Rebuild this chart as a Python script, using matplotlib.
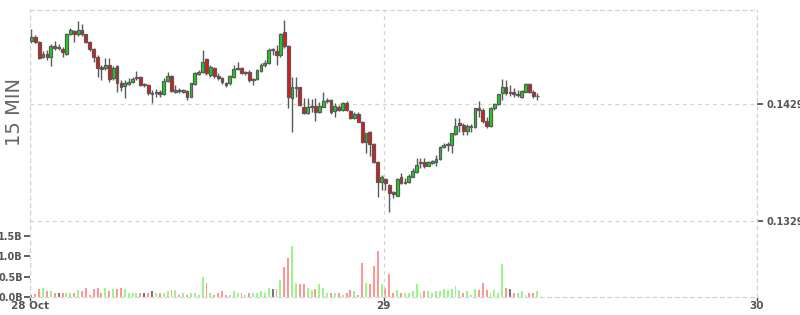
import matplotlib
matplotlib.use('Agg')
import matplotlib.pyplot as plt
import matplotlib.dates as mdates
import numpy as np
import pandas as pd


# 15 minute candles, 28 Oct 01:15 onwards
start = '2019-10-28 01:15'
opens = [0.14828, 0.14860, 0.14822, 0.14689, 0.14715, 0.14689, 0.14786, 0.14780, 0.14757, 0.14715,
         0.14888, 0.14914, 0.14886, 0.14923, 0.14886, 0.14822, 0.14757, 0.14694, 0.14609, 0.14595,
         0.14623, 0.14510, 0.14615, 0.14467, 0.14444, 0.14461, 0.14475, 0.14515, 0.14523, 0.14458,
         0.14452, 0.14375, 0.14381, 0.14390, 0.14375, 0.14489, 0.14532, 0.14395, 0.14409, 0.14395,
         0.14401, 0.14352, 0.14458, 0.14549, 0.14561, 0.14672, 0.14538, 0.14595, 0.14532, 0.14510,
         0.14467, 0.14467, 0.14523, 0.14586, 0.14595, 0.14552, 0.14561, 0.14492, 0.14504, 0.14575,
         0.14623, 0.14638, 0.14759, 0.14743, 0.14709, 0.14903, 0.14788, 0.14344, 0.14426, 0.14433,
         0.14267, 0.14210, 0.14264, 0.14273, 0.14219, 0.14267, 0.14315, 0.14324, 0.14230, 0.14267,
         0.14239, 0.14296, 0.14233, 0.14168, 0.14202, 0.14138, 0.13962, 0.14048, 0.13948, 0.13791,
         0.13625, 0.13649, 0.13597, 0.13535, 0.13506, 0.13663, 0.13612, 0.13620, 0.13668, 0.13706,
         0.13796, 0.13791, 0.13762, 0.13788, 0.13796, 0.13820, 0.13920, 0.13937, 0.13939, 0.14033,
         0.14125, 0.14110, 0.14062, 0.14096, 0.14091, 0.14253, 0.14239, 0.14147, 0.14104, 0.14253,
         0.14287, 0.14381, 0.14438, 0.14389, 0.14390, 0.14367, 0.14352, 0.14395, 0.14458, 0.14390,
         0.14354]
highs = [0.14931, 0.14880, 0.14828, 0.14743, 0.14752, 0.14803, 0.14828, 0.14800, 0.14780, 0.14897,
         0.14937, 0.14923, 0.14999, 0.14971, 0.14888, 0.14828, 0.14766, 0.14709, 0.14623, 0.14683,
         0.14686, 0.14615, 0.14623, 0.14495, 0.14495, 0.14510, 0.14523, 0.14572, 0.14529, 0.14469,
         0.14458, 0.14409, 0.14418, 0.14409, 0.14510, 0.14561, 0.14538, 0.14452, 0.14429, 0.14418,
         0.14409, 0.14469, 0.14561, 0.14580, 0.14752, 0.14686, 0.14623, 0.14609, 0.14552, 0.14523,
         0.14480, 0.14538, 0.14623, 0.14651, 0.14609, 0.14572, 0.14580, 0.14515, 0.14586, 0.14638,
         0.14666, 0.14766, 0.14766, 0.14794, 0.14894, 0.15008, 0.14794, 0.14521, 0.14521, 0.14435,
         0.14341, 0.14339, 0.14333, 0.14339, 0.14307, 0.14392, 0.14341, 0.14333, 0.14298, 0.14281,
         0.14307, 0.14315, 0.14239, 0.14221, 0.14221, 0.14144, 0.14042, 0.14059, 0.13956, 0.13802,
         0.13683, 0.13657, 0.13606, 0.13546, 0.13657, 0.13700, 0.13657, 0.13691, 0.13743, 0.13828,
         0.13826, 0.13828, 0.13802, 0.13811, 0.13854, 0.13931, 0.13956, 0.13965, 0.14042, 0.14168,
         0.14173, 0.14127, 0.14116, 0.14116, 0.14258, 0.14315, 0.14253, 0.14181, 0.14264, 0.14296,
         0.14375, 0.14504, 0.14495, 0.14452, 0.14424, 0.14409, 0.14409, 0.14467, 0.14467, 0.14409,
         0.14381]
lows = [0.14809, 0.14811, 0.14670, 0.14683, 0.14666, 0.14617, 0.14752, 0.14752, 0.14694, 0.14709,
        0.14880, 0.14822, 0.14874, 0.14874, 0.14811, 0.14743, 0.14651, 0.14523, 0.14495, 0.14580,
        0.14480, 0.14495, 0.14395, 0.14401, 0.14344, 0.14452, 0.14467, 0.14495, 0.14446, 0.14435,
        0.14367, 0.14296, 0.14352, 0.14352, 0.14367, 0.14480, 0.14395, 0.14381, 0.14381, 0.14384,
        0.14324, 0.14350, 0.14452, 0.14538, 0.14552, 0.14538, 0.14523, 0.14510, 0.14495, 0.14458,
        0.14438, 0.14452, 0.14510, 0.14580, 0.14544, 0.14538, 0.14480, 0.14452, 0.14495, 0.14566,
        0.14609, 0.14629, 0.14709, 0.14623, 0.14694, 0.14766, 0.14256, 0.14053, 0.14350, 0.14273,
        0.14204, 0.14204, 0.14221, 0.14144, 0.14213, 0.14264, 0.14298, 0.14204, 0.14179, 0.14230,
        0.14230, 0.14230, 0.14162, 0.14162, 0.14133, 0.13956, 0.13871, 0.13845, 0.13785, 0.13497,
        0.13554, 0.13554, 0.13369, 0.13486, 0.13503, 0.13606, 0.13606, 0.13614, 0.13666, 0.13700,
        0.13745, 0.13743, 0.13760, 0.13777, 0.13762, 0.13811, 0.13914, 0.13888, 0.13873, 0.14025,
        0.14048, 0.14025, 0.14025, 0.14053, 0.14082, 0.14181, 0.14125, 0.14087, 0.14096, 0.14239,
        0.14281, 0.14324, 0.14367, 0.14361, 0.14352, 0.14352, 0.14344, 0.14390, 0.14381, 0.14339,
        0.14324]
closes = [0.14865, 0.14822, 0.14681, 0.14715, 0.14689, 0.14788, 0.14766, 0.14766, 0.14732, 0.14886,
          0.14923, 0.14886, 0.14923, 0.14888, 0.14817, 0.14757, 0.14694, 0.14595, 0.14589, 0.14623,
          0.14504, 0.14595, 0.14467, 0.14433, 0.14467, 0.14480, 0.14501, 0.14523, 0.14452, 0.14452,
          0.14381, 0.14381, 0.14395, 0.14375, 0.14489, 0.14529, 0.14401, 0.14409, 0.14401, 0.14409,
          0.14352, 0.14467, 0.14552, 0.14561, 0.14651, 0.14557, 0.14609, 0.14532, 0.14510, 0.14475,
          0.14452, 0.14532, 0.14589, 0.14595, 0.14557, 0.14561, 0.14495, 0.14504, 0.14580, 0.14623,
          0.14638, 0.14752, 0.14752, 0.14709, 0.14886, 0.14788, 0.14347, 0.14433, 0.14435, 0.14281,
          0.14210, 0.14267, 0.14273, 0.14219, 0.14273, 0.14318, 0.14324, 0.14219, 0.14275, 0.14239,
          0.14296, 0.14239, 0.14168, 0.14202, 0.14138, 0.13962, 0.14039, 0.13948, 0.13791, 0.13625,
          0.13663, 0.13612, 0.13526, 0.13518, 0.13649, 0.13612, 0.13625, 0.13677, 0.13720, 0.13768,
          0.13783, 0.13762, 0.13791, 0.13802, 0.13817, 0.13925, 0.13939, 0.13945, 0.14039, 0.14104,
          0.14108, 0.14062, 0.14102, 0.14104, 0.14253, 0.14239, 0.14147, 0.14104, 0.14253, 0.14287,
          0.14373, 0.14438, 0.14381, 0.14381, 0.14373, 0.14375, 0.14401, 0.14458, 0.14390, 0.14358,
          0.14361]
# volume in billions
volumes = [0.06, 0.07, 0.19, 0.21, 0.14, 0.14, 0.09, 0.09, 0.11, 0.11,
           0.09, 0.09, 0.16, 0.15, 0.21, 0.06, 0.19, 0.23, 0.11, 0.23,
           0.14, 0.19, 0.19, 0.21, 0.19, 0.11, 0.09, 0.09, 0.11, 0.09,
           0.11, 0.14, 0.09, 0.09, 0.11, 0.14, 0.16, 0.16, 0.06, 0.09,
           0.06, 0.09, 0.11, 0.06, 0.50, 0.35, 0.11, 0.06, 0.09, 0.14,
           0.06, 0.04, 0.14, 0.11, 0.09, 0.06, 0.09, 0.09, 0.09, 0.14,
           0.09, 0.23, 0.19, 0.19, 0.43, 0.75, 0.97, 1.26, 0.35, 0.31,
           0.31, 0.23, 0.16, 0.19, 0.33, 0.23, 0.09, 0.11, 0.09, 0.11,
           0.06, 0.11, 0.16, 0.14, 0.06, 0.84, 0.35, 0.33, 0.77, 1.13,
           0.33, 0.23, 0.57, 0.11, 0.16, 0.09, 0.11, 0.09, 0.14, 0.33,
           0.09, 0.14, 0.14, 0.09, 0.14, 0.14, 0.19, 0.16, 0.19, 0.28,
           0.16, 0.11, 0.14, 0.06, 0.19, 0.16, 0.35, 0.16, 0.11, 0.16,
           0.11, 0.81, 0.23, 0.19, 0.09, 0.11, 0.14, 0.06, 0.09, 0.09,
           0.14]
price_ticks = [0.1429, 0.1329]
vol_ticks = [0.0, 0.5, 1.0, 1.5]
day_labels = ['28 Oct', '29', '30']

O = np.array(opens)
H = np.array(highs)
L = np.array(lows)
C = np.array(closes)
V = np.array(volumes)

bar = 1 / 96
times = pd.date_range(start, periods=len(O), freq='15min')
x = mdates.date2num(times) + bar / 2
x_left = mdates.date2num(pd.Timestamp('2019-10-28 01:17'))
x_right = mdates.date2num(pd.Timestamp('2019-10-30 00:00'))
day_ticks = [x_left,
             mdates.date2num(pd.Timestamp('2019-10-29')),
             mdates.date2num(pd.Timestamp('2019-10-30'))]

GRID = '#d4d4d4'
TXT = '#555555'
UP, DOWN = '#11dd11', '#ee1111'

fig = plt.figure(figsize=(8, 3.15), dpi=100)
rect = [30 / 800, 18 / 315, 727 / 800, 287 / 315]

# volume panel underneath, ticks on the left
axv = fig.add_axes(rect)
prev = np.r_[C[0], C[:-1]]
vcol = np.where(C > prev, '#99f58c', np.where(C < prev, '#ff9696', '#777777'))
vcol[0] = '#777777'
axv.bar(x, V, width=bar * 0.5, color=vcol, linewidth=0)
axv.set_ylim(0, 7.06)
axv.set_xlim(x_left, x_right)
axv.set_yticks(vol_ticks)
axv.set_yticklabels(['%.1fB' % v for v in vol_ticks])
axv.tick_params(axis='y', direction='out', length=4, width=1.2, color='#444444',
                labelsize=7, labelcolor=TXT, pad=1)
for t in axv.get_yticklabels():
    t.set_fontweight('bold')
axv.tick_params(axis='x', bottom=False, labelbottom=False)
for s in axv.spines.values():
    s.set_visible(False)

# price panel on top
ax = fig.add_axes(rect)
ax.patch.set_alpha(0)
ax.vlines(x, L, H, color='#5a5a5a', linewidth=1, zorder=2)
body_lo = np.minimum(O, C)
body_h = np.maximum(np.abs(C - O), 0.00004)
ax.bar(x, body_h, bottom=body_lo, width=bar * 0.72,
       color=np.where(C >= O, UP, DOWN), edgecolor='#5a5a5a', linewidth=0.9, zorder=3)
ax.set_ylim(0.12640, 0.15093)
ax.set_xlim(x_left, x_right)
ax.yaxis.tick_right()
ax.set_yticks(price_ticks)
ax.set_yticklabels(['%.4f' % p for p in price_ticks])
ax.tick_params(axis='y', direction='out', length=4, width=1.2, color='#444444',
               labelsize=7, labelcolor=TXT, pad=3)
ax.set_xticks(day_ticks)
ax.set_xticklabels(day_labels)
ax.tick_params(axis='x', direction='out', length=3, width=1, color='#444444',
               labelsize=7.5, labelcolor=TXT, pad=0)
for t in ax.get_yticklabels() + ax.get_xticklabels():
    t.set_fontweight('bold')
ax.grid(True, color=GRID, linestyle=(0, (3, 3)), linewidth=0.9)
for s in ax.spines.values():
    s.set_color(GRID)
    s.set_linestyle((0, (3, 3)))
    s.set_linewidth(0.9)

fig.text(15 / 800, 1 - 112 / 315, '15 MIN', rotation=90, ha='center', va='center',
         fontsize=14, color='#666666')

fig.savefig('out.png', dpi=100)
